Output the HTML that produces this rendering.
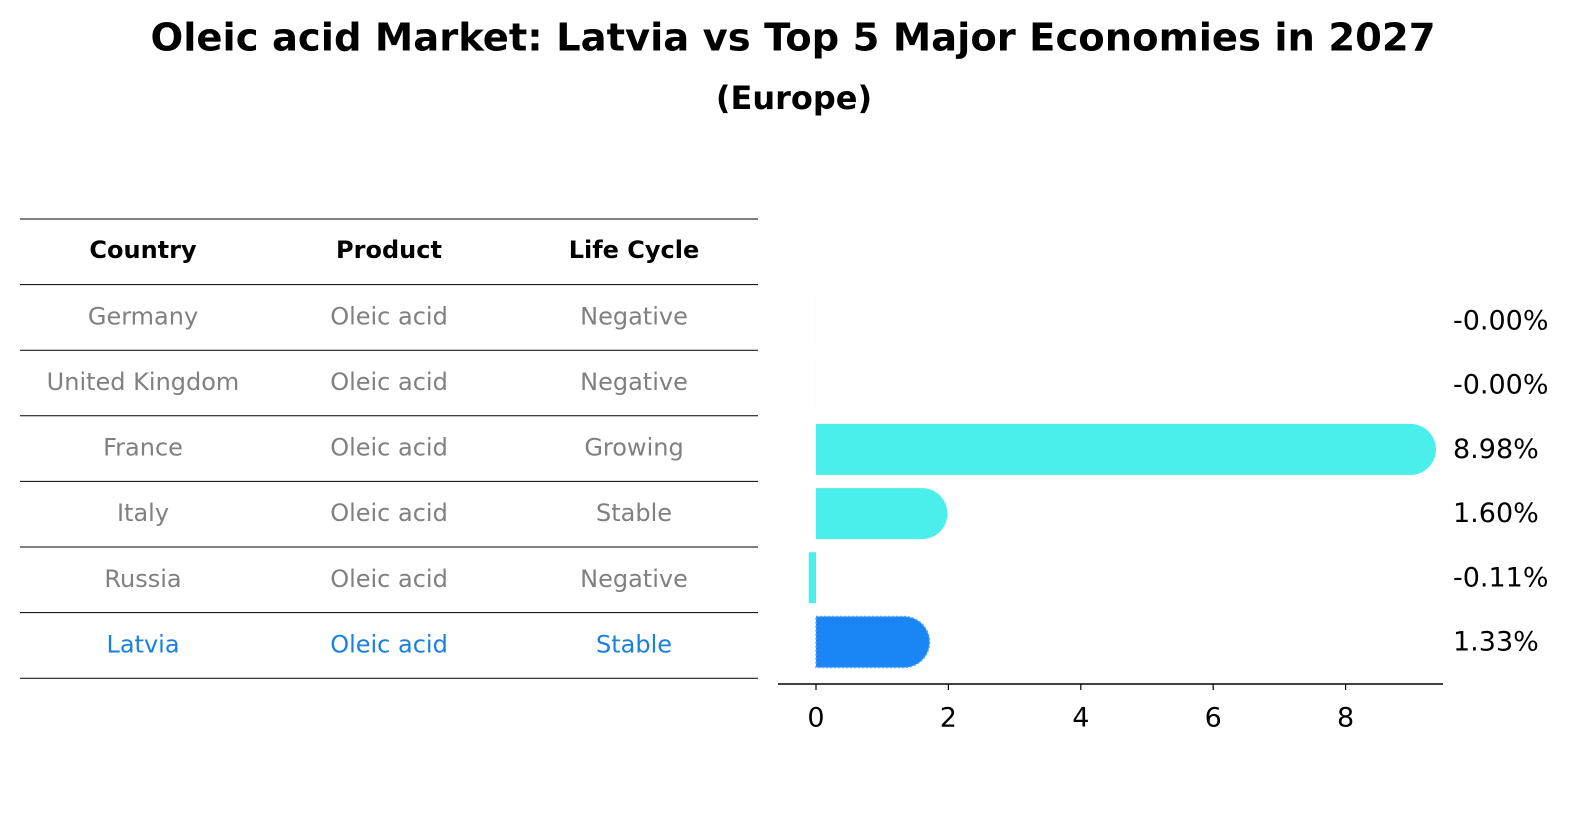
<!DOCTYPE html>
<html><head><meta charset="utf-8"><style>
body{margin:0;background:#fff;font-family:"DejaVu Sans","Liberation Sans",sans-serif;}
#wrap{position:relative;width:1596px;height:823px;overflow:hidden;}
.t{position:absolute;white-space:nowrap;transform:translate(-50%,-50%);}
</style></head><body>
<div id="wrap">
<div class="t" style="left:793px;top:38px;font-size:38.5px;font-weight:bold;">Oleic acid Market: Latvia vs Top 5 Major Economies in 2027</div>
<div class="t" style="left:794px;top:98px;font-size:32px;font-weight:bold;">(Europe)</div>
<svg id="svg" width="1596" height="823" style="position:absolute;left:0;top:0"></svg>
</div>
<script>
const countries=["Germany","United Kingdom","France","Italy","Russia","Latvia"];
const products=["Oleic acid","Oleic acid","Oleic acid","Oleic acid","Oleic acid","Oleic acid"];
const lifecycle=["Negative","Negative","Growing","Stable","Negative","Stable"];
const values=[-0.001,-0.001,8.98,1.60,-0.11,1.33];
const valueLabels=["-0.00%","-0.00%","8.98%","1.60%","-0.11%","1.33%"];
const ticks=[0,2,4,6,8];
const NS="http://www.w3.org/2000/svg";
const svg=document.getElementById('svg');
function mk(tag,attrs,txt){const e=document.createElementNS(NS,tag);for(const k in attrs)e.setAttribute(k,attrs[k]);if(txt!==undefined)e.textContent=txt;svg.appendChild(e);return e;}
const x=v=>816+v*66.2;
const rowY=i=>321+i*64.2;
const lineY=i=>219+i*65.6;
const colX=[143,389,634];
for(let i=0;i<8;i++){const l=mk('line',{x1:20,x2:758,y1:lineY(i),y2:lineY(i),stroke:'#000','stroke-width':1});
}
["Country","Product","Life Cycle"].forEach((h,j)=>{const t=mk('text',{x:colX[j],y:251,'text-anchor':'middle','dominant-baseline':'middle','font-size':24,'font-weight':'bold',fill:'#000'},h);
});
countries.forEach((c,i)=>{const y=(lineY(i+1)+lineY(i+2))/2;const col=i===5?'#1a80e0':'#808080';
[c,products[i],lifecycle[i]].forEach((v,j)=>{const t=mk('text',{x:colX[j],y:y,'text-anchor':'middle','dominant-baseline':'middle','font-size':24,fill:col},v);
});});
const h=51,r=25.5;
values.forEach((v,i)=>{const cy=rowY(i);const col=i===5?'#1a85f5':'#4aeeea';
let d;const x0=x(0),x1=x(v);
if(v>0){d=`M${x0},${cy-h/2} L${x1},${cy-h/2} A${r},${r} 0 0 1 ${x1},${cy+h/2} L${x0},${cy+h/2} Z`;}
else{d=`M${x1},${cy-h/2} L${x0},${cy-h/2} L${x0},${cy+h/2} L${x1},${cy+h/2} Z`;}
const p=mk('path',{d:d,fill:col});
if(i===5){p.setAttribute('stroke','#5aa8f5');p.setAttribute('stroke-dasharray','2,2');p.setAttribute('stroke-width','1.5');}


const t=mk('text',{x:1453,y:cy+1,'dominant-baseline':'middle','font-size':27,fill:'#000'},valueLabels[i]);

});
const ax=mk('line',{x1:778,x2:1443,y1:684,y2:684,stroke:'#000','stroke-width':1.5});

ticks.forEach(t=>{const l=mk('line',{x1:x(t),x2:x(t),y1:684,y2:690,stroke:'#000','stroke-width':1.2});

const tx=mk('text',{x:x(t),y:719,'text-anchor':'middle','dominant-baseline':'middle','font-size':27,fill:'#000'},String(t));
});
</script>
</body></html>
